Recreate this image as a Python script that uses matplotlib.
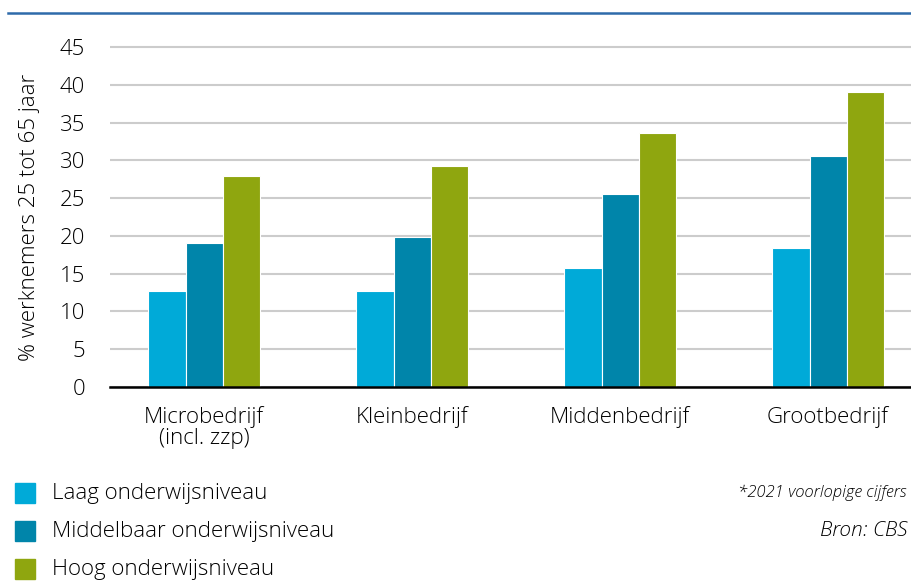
import numpy as np
import matplotlib.pyplot as plt
from matplotlib.patches import Rectangle
from matplotlib.lines import Line2D

categories = ['Microbedrijf\n(incl. zzp)', 'Kleinbedrijf', 'Middenbedrijf', 'Grootbedrijf']
laag = [12.7, 12.7, 15.7, 18.4]
middelbaar = [19.1, 19.8, 25.5, 30.6]
hoog = [27.9, 29.2, 33.6, 39.0]
series_labels = ['Laag onderwijsniveau', 'Middelbaar onderwijsniveau', 'Hoog onderwijsniveau']
colors = ['#00AAD8', '#0085AA', '#8FA60F']
yticks = [0, 5, 10, 15, 20, 25, 30, 35, 40, 45]

plt.rcParams['font.family'] = ['Open Sans', 'DejaVu Sans']

W, H = 911, 581
fig = plt.figure(figsize=(W / 100, H / 100), dpi=100)

# axes in pixel terms: x from 110 to ~932 (cut off on the right), y0 at 387
ymax = 45.5
px_per_unit = 340 / 45
ax_h = ymax * px_per_unit
ax = fig.add_axes([110 / W, (H - 387) / H, 822 / W, ax_h / H])

x = np.arange(len(categories))
w = 0.178
for i, (vals, c, lab) in enumerate(zip([laag, middelbaar, hoog], colors, series_labels)):
    ax.bar(x + (i - 1) * w, vals, width=w, color=c, edgecolor='white', linewidth=0.8,
           label=lab, zorder=3)

ax.set_xlim(-0.452, -0.452 + 822 / 208)
ax.set_ylim(0, ymax)
ax.set_yticks(yticks)
ax.set_yticklabels([str(t) for t in yticks], fontsize=16, fontweight='light')
ax.set_xticks(x)
ax.set_xticklabels(categories, fontsize=16, fontweight='light', linespacing=1.0)
ax.tick_params(axis='both', length=0)
ax.tick_params(axis='y', pad=18)
ax.tick_params(axis='x', pad=14)
ax.yaxis.grid(True, color='#cccccc', linewidth=1.5, zorder=0)
ax.set_axisbelow(True)
for s in ['top', 'right', 'left']:
    ax.spines[s].set_visible(False)
ax.spines['bottom'].set_color('black')
ax.spines['bottom'].set_linewidth(1.8)
ax.spines['bottom'].set_zorder(4)

fig.text(30 / W, (H - 217) / H, '% werknemers 25 tot 65 jaar', rotation=90,
         ha='center', va='center', fontsize=16, fontweight='light')

# top blue rule
fig.add_artist(Line2D([8 / W, 1.0], [(H - 13) / H] * 2, color='#2E6BAA', linewidth=1.8))

# legend
for i, (c, lab) in enumerate(zip(colors, series_labels)):
    yc = 493 + i * 38
    fig.add_artist(Rectangle((15 / W, (H - yc - 10) / H), 20 / W, 20 / H,
                             transform=fig.transFigure, color=c))
    fig.text(52 / W, (H - yc) / H, lab, ha='left', va='center', fontsize=16,
             fontweight='light')

fig.text(907 / W, (H - 493) / H, '*2021 voorlopige cijfers', ha='right', va='center',
         fontsize=12, style='italic', fontweight='light')
fig.text(907 / W, (H - 531) / H, 'Bron: CBS', ha='right', va='center',
         fontsize=15, style='italic', fontweight='light')

fig.savefig('out.png', dpi=100)
